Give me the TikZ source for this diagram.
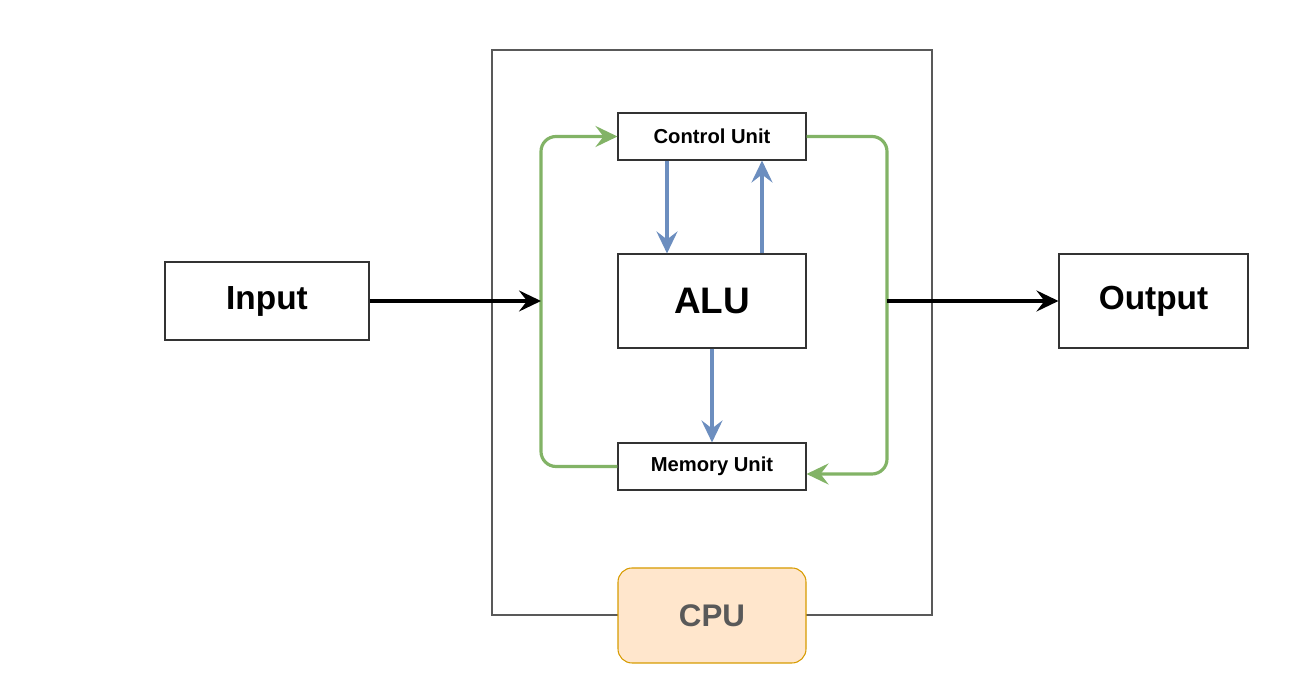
\documentclass[tikz,border=0pt]{standalone}
\usepackage{fontspec}
\setmainfont{Liberation Sans}
\usepackage{xcolor}
\usetikzlibrary{arrows.meta,positioning,calc}
\definecolor{flowgreen}{HTML}{82B366}
\definecolor{flowblue}{HTML}{6C8EBF}
\definecolor{cpufill}{HTML}{FFE6CC}
\definecolor{cpuline}{HTML}{D79B00}
\begin{document}
\begin{tikzpicture}[
		unit/.style={draw=black!80, line width=0.6pt, fill=white, minimum width=3.76cm, inner sep=0pt, font=\bfseries},
		greenflow/.style={draw=flowgreen, line width=1.8pt, rounded corners=0.3cm, -{Stealth[length=4.4mm, width=4.2mm, inset=1.6mm]}},
		blueflow/.style={draw=flowblue, line width=1.8pt, -{Stealth[length=4.4mm, width=4.2mm, inset=1.6mm]}},
		dataflow/.style={draw=black, line width=1.8pt, -{Stealth[length=4.4mm, width=4.2mm, inset=1.6mm]}}
		]
		\useasboundingbox (0,0) rectangle (26,13.92);
		% CPU frame
		\draw[draw=black!65, line width=0.8pt] (9.84,1.62) rectangle (18.64,12.92);
		\node[unit, minimum height=0.94cm, font=\bfseries\fontsize{11.5}{13}\selectfont] (ctrl) at (14.24,11.19) {Control Unit};
		\node[unit, minimum height=1.88cm, font=\bfseries\fontsize{21}{24}\selectfont] (alu) at (14.24,7.90) {ALU};
		\node[unit, minimum height=0.94cm, font=\bfseries\fontsize{11.5}{13}\selectfont] (mem) at (14.24,4.59) {Memory Unit};
		\node[unit, draw=cpuline, fill=cpufill, text=black!65, rounded corners=0.28cm, minimum height=1.9cm, font=\bfseries\fontsize{17.8}{20}\selectfont] (cpu) at (14.24,1.61) {CPU};
		\node[unit, minimum width=4.08cm, minimum height=1.56cm, font=\bfseries\fontsize{19}{22}\selectfont] (in) at (5.34,7.90) {Input};
		\node[unit, minimum width=3.78cm, minimum height=1.88cm, font=\bfseries\fontsize{19}{22}\selectfont] (out) at (23.07,7.90) {Output};
		\coordinate (lbus) at (10.82,7.90);
		\coordinate (rbus) at (17.74,7.90);
		% feedback loops
		\draw[greenflow] (mem.west) -| (lbus) |- (ctrl.west);
		\draw[greenflow] (ctrl.east) -| (rbus) |- ([yshift=-0.15cm]mem.east);
		\draw[blueflow] ([xshift=-0.9cm]ctrl.south) -- ([xshift=-0.9cm]alu.north);
		\draw[blueflow] ([xshift=1cm]alu.north) -- ([xshift=1cm]ctrl.south);
		\draw[blueflow] (alu.south) -- (mem.north);
		% input and output
		\draw[dataflow] (in.east) -- (lbus);
		\draw[dataflow] (rbus) -- (out.west);
\end{tikzpicture}
\end{document}
